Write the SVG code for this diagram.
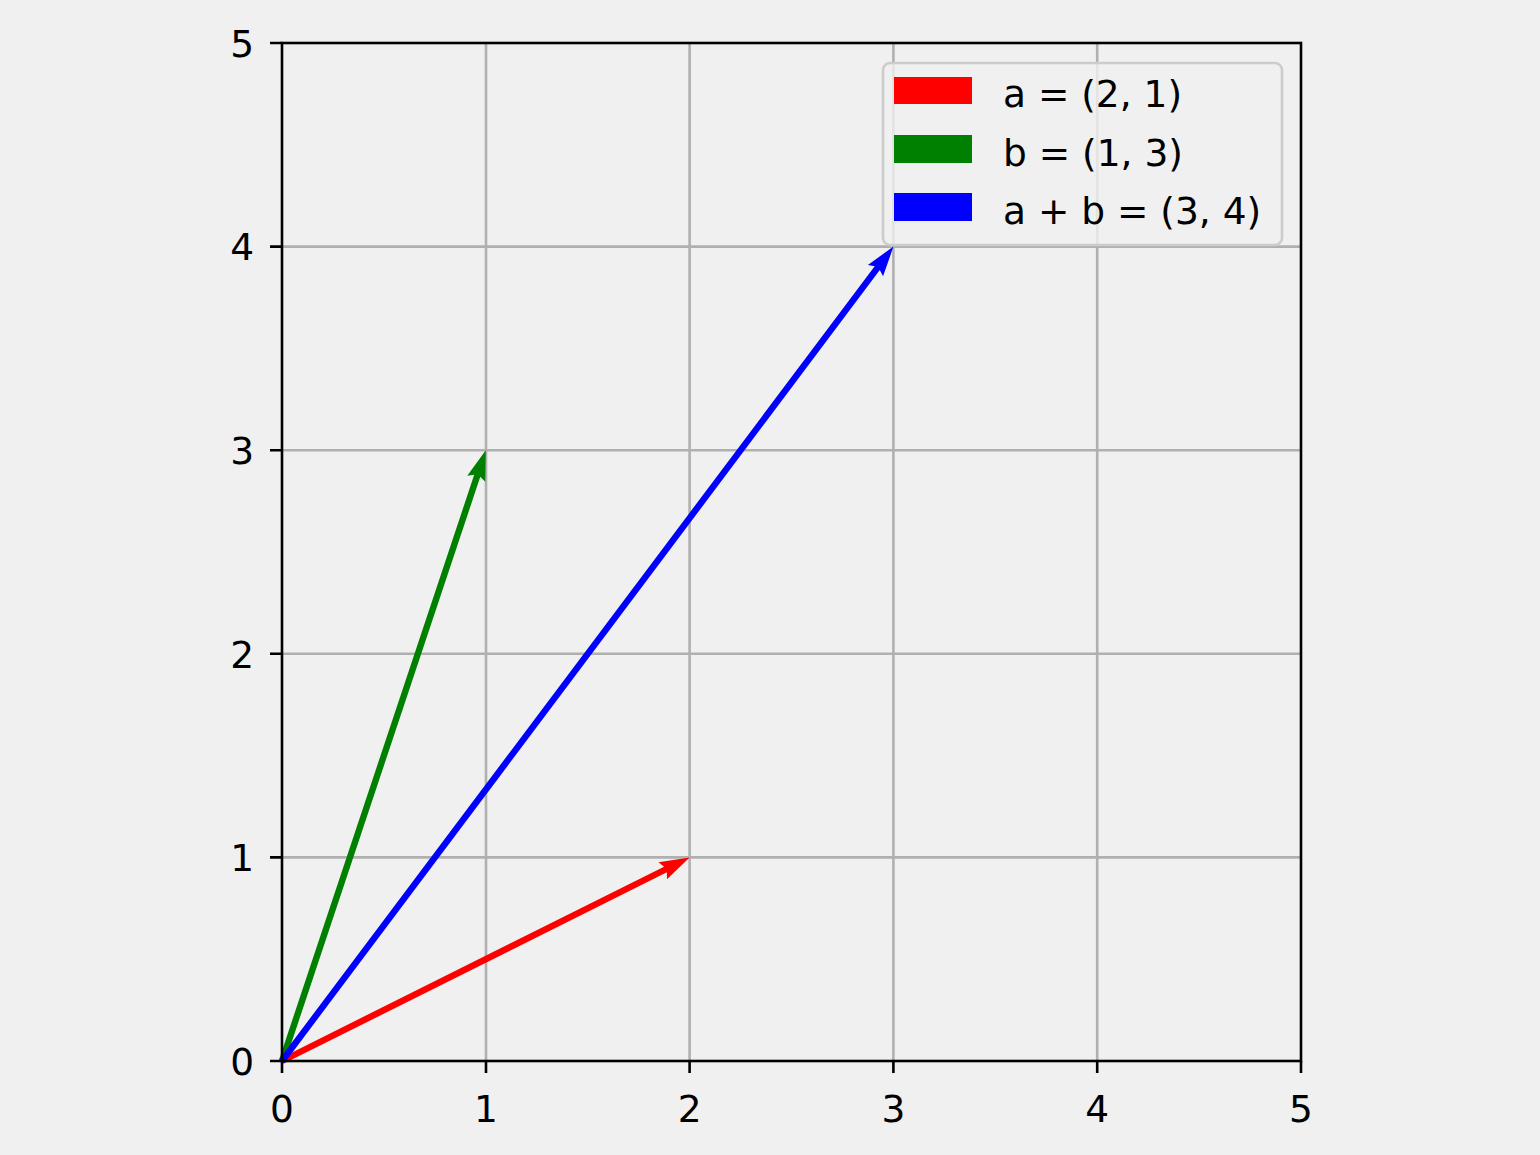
<svg xmlns="http://www.w3.org/2000/svg" width="1540" height="1155" viewBox="0 0 1540 1155">
<style>
.grid{stroke:#b0b0b0;stroke-width:2.6;fill:none}
.tick{stroke:#000;stroke-width:2.6}
.lbl{font-family:"DejaVu Sans",sans-serif;font-size:37.5px;fill:#000}
.spine{stroke:#000;stroke-width:2.6;fill:none;stroke-linecap:square}
</style>
<rect x="0" y="0" width="1540" height="1155" fill="#f0f0f0"/>
<g id="grid">
<path class="grid" d="M486,43V1061M689.6,43V1061M893.4,43V1061M1097.2,43V1061M282,857.4H1301M282,653.8H1301M282,450.2H1301M282,246.6H1301"/>
</g>
<g id="connectors">
<g id="vec-a" transform="translate(282,1061) rotate(-26.54)">
<polygon fill="#ff0000" points="0,-3.2 428.6,-3.2 425.6,-9.5 455.6,0 425.6,9.5 428.6,3.2 0,3.2"/>
</g>
<g id="vec-b" transform="translate(282,1061) rotate(-71.55)">
<polygon fill="#008000" points="0,-3.2 616.9,-3.2 613.9,-9.5 643.9,0 613.9,9.5 616.9,3.2 0,3.2"/>
</g>
<g id="vec-ab" transform="translate(282,1061) rotate(-53.10)">
<polygon fill="#0000ff" points="0,-3.2 991.4,-3.2 988.4,-9.5 1018.4,0 988.4,9.5 991.4,3.2 0,3.2"/>
</g>
</g>
<g id="axes">
<rect class="spine" x="282" y="43" width="1019" height="1018"/>
<path class="tick" d="M282,1061v12M486,1061v12M689.6,1061v12M893.4,1061v12M1097.2,1061v12M1301,1061v12M282,1061h-12M282,857.4h-12M282,653.8h-12M282,450.2h-12M282,246.6h-12M282,43h-12"/>
<g class="lbl" text-anchor="middle">
<text x="282" y="1122">0</text>
<text x="486" y="1122">1</text>
<text x="689.6" y="1122">2</text>
<text x="893.4" y="1122">3</text>
<text x="1097.2" y="1122">4</text>
<text x="1301" y="1122">5</text>
</g>
<g class="lbl" text-anchor="end">
<text x="254" y="1074.5">0</text>
<text x="254" y="871">1</text>
<text x="254" y="667.5">2</text>
<text x="254" y="464">3</text>
<text x="254" y="260">4</text>
<text x="254" y="56.5">5</text>
</g>
</g>
<g id="legend">
<rect x="883" y="63" width="399" height="182" rx="7" ry="7" fill="#f0f0f0" fill-opacity="0.8" stroke="#cccccc" stroke-width="2.6"/>
<rect x="894" y="77" width="78" height="27" fill="#ff0000"/>
<rect x="894" y="135" width="78" height="28" fill="#008000"/>
<rect x="894" y="193" width="78" height="28" fill="#0000ff"/>
<text class="lbl" x="1003" y="107">a = (2, 1)</text>
<text class="lbl" x="1003" y="166">b = (1, 3)</text>
<text class="lbl" x="1003" y="224">a + b = (3, 4)</text>
</g>
</svg>
